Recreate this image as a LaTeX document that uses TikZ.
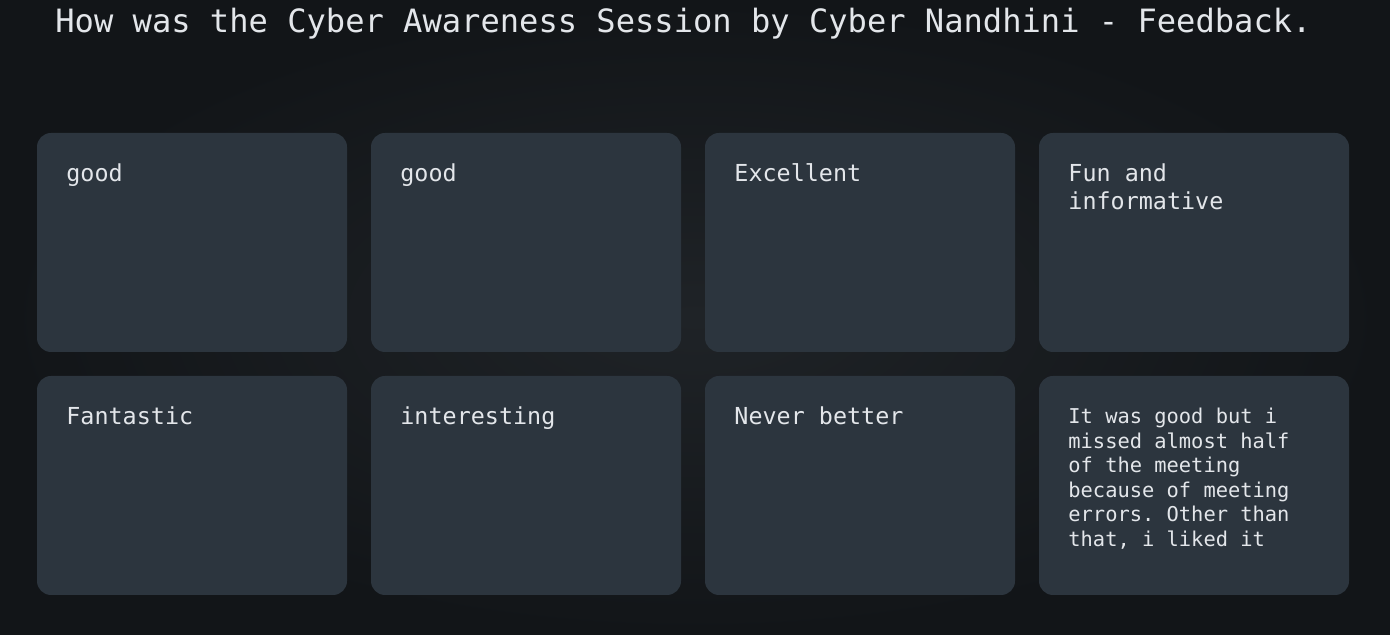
\documentclass[tikz,border=0pt]{standalone}
\usepackage{fontspec}
\setmonofont{DejaVu Sans Mono}
\usepackage{tikz}
\usetikzlibrary{positioning}
\definecolor{bgdark}{HTML}{121518}
\definecolor{bglight}{HTML}{1F2327}
\definecolor{cardfill}{HTML}{2C353E}
\definecolor{inktext}{HTML}{E3E6EA}
\tikzstyle{card} = [rectangle, rounded corners=7pt, minimum width=155pt, minimum
height=109.5pt, inner sep=0pt, outer sep=0pt, fill=cardfill]
\tikzstyle{cardtext} = [anchor=north west, inner sep=0pt, align=left, text=inktext,
font=\ttfamily\fontsize{11.7}{14}\selectfont]
\tikzstyle{cardsmall} = [cardtext, font=\ttfamily\fontsize{10.2}{12.3}\selectfont]
\tikzstyle{headline} = [anchor=base west, inner sep=0pt, text=inktext,
font=\ttfamily\fontsize{16.05}{19}\selectfont]

\begin{document}
\begin{tikzpicture}[node distance=12pt]
        \shade[inner color=bglight, outer color=bgdark] (0,0) rectangle (695pt,317.5pt);
        \useasboundingbox (0,0) rectangle (695pt,317.5pt);
        \node (title) [headline] at (27.5pt,301pt) {How was the Cyber Awareness Session by Cyber Nandhini - Feedback.};
        %
        \node (good1) [card, anchor=north west] at (18.5pt,251pt) {};
        \node (good2) [card, right=of good1] {};
        \node (excellent) [card, right=of good2] {};
        \node (fun) [card, right=of excellent] {};
        \node (fantastic) [card, below=of good1] {};
        \node (interesting) [card, below=of good2] {};
        \node (never) [card, below=of excellent] {};
        \node (missed) [card, below=of fun] {};
        %
        \node (good1txt) [cardtext] at ([shift={(14.5pt,-14.2pt)}]good1.north west) {\strut good};
        \node (good2txt) [cardtext] at ([shift={(14.5pt,-14.2pt)}]good2.north west) {\strut good};
        \node (excellenttxt) [cardtext] at ([shift={(14.5pt,-14.2pt)}]excellent.north west) {\strut Excellent};
        \node (funtxt) [cardtext] at ([shift={(14.5pt,-14.2pt)}]fun.north west) {\strut Fun and\\informative};
        \node (fantastictxt) [cardtext] at ([shift={(14.5pt,-14.2pt)}]fantastic.north west) {\strut Fantastic};
        \node (interestingtxt) [cardtext] at ([shift={(14.5pt,-14.2pt)}]interesting.north west) {\strut interesting};
        \node (nevertxt) [cardtext] at ([shift={(14.5pt,-14.2pt)}]never.north west) {\strut Never better};
        \node (missedtxt) [cardsmall] at ([shift={(14.5pt,-14.9pt)}]missed.north west) {\strut It was good but i\\missed almost half\\of the meeting\\because of meeting\\errors. Other than\\that, i liked it};
    \end{tikzpicture}
\end{document}
